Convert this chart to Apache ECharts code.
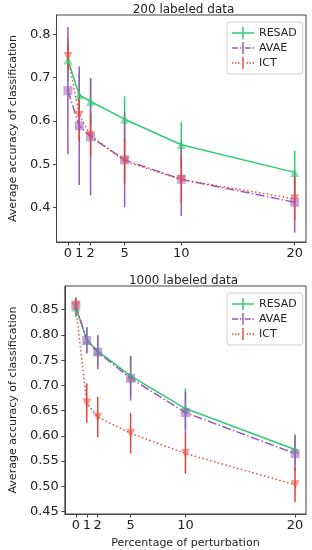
<!DOCTYPE html>
<html>
<head>
<meta charset="utf-8">
<script src="https://cdn.jsdelivr.net/npm/echarts@6/dist/echarts.min.js"></script>
<style>
html,body{margin:0;padding:0;background:#fff;}
#chart{width:312px;height:550px;}
</style>
</head>
<body>
<div id="chart"></div>
<script>
// ---- data ----
var xVals = [0, 1, 2, 5, 10, 20];
var xTicks = [0, 1, 2, 5, 10, 20];
var yTicksTop = [0.4, 0.5, 0.6, 0.7, 0.8];
var yTicksBottom = [0.45, 0.50, 0.55, 0.60, 0.65, 0.70, 0.75, 0.80, 0.85];
var seriesNames = ['RESAD', 'AVAE', 'ICT'];
var titleTop = '200 labeled data';
var titleBottom = '1000 labeled data';

var resad200 = [0.741, 0.660, 0.645, 0.604, 0.545, 0.481];
var resad200Err = [0.05, 0.05, 0.055, 0.053, 0.052, 0.05];
var avae200 = [0.670, 0.589, 0.563, 0.510, 0.465, 0.412];
var avae200Err = [0.147, 0.137, 0.135, 0.11, 0.085, 0.07];
var ict200 = [0.749, 0.613, 0.567, 0.507, 0.464, 0.420];
var ict200Err = [0.03, 0.06, 0.05, 0.052, 0.053, 0.05];

var resad1000 = [0.855, 0.790, 0.768, 0.719, 0.654, 0.573];
var resad1000Err = [0.02, 0.025, 0.03, 0.04, 0.04, 0.03];
var avae1000 = [0.859, 0.789, 0.766, 0.714, 0.646, 0.565];
var avae1000Err = [0.012, 0.026, 0.034, 0.044, 0.042, 0.035];
var ict1000 = [0.857, 0.665, 0.637, 0.605, 0.565, 0.503];
var ict1000Err = [0.016, 0.039, 0.04, 0.04, 0.04, 0.034];

// ---- styles ----
var FONT = 'DejaVu Sans';
var colors = {RESAD: '#2ecc71', AVAE: '#9b59b6', ICT: '#e74c3c'};
var errColors = {RESAD: '#2ecc71', AVAE: '#9b59b6', ICT: '#e0453a'};
var lineTypes = {RESAD: 'solid', AVAE: [9, 2.4, 1.5, 2.4], ICT: [1.5, 2.5]};
var symbols = {RESAD: 'triangle', AVAE: 'rect', ICT: 'triangle'};
var symbolRot = {RESAD: 0, AVAE: 0, ICT: 180};
var symbolSizes = {RESAD: 9, AVAE: 9, ICT: 9};
var legendIcons = {
  RESAD: 'path://M0,5.25h22v1.5h-22z M10.25,0h1.5v12h-1.5z',
  AVAE: 'path://M0,5.25h6v1.5h-6z M7.8,5.25h1.5v1.5h-1.5z M12.7,5.25h6v1.5h-6z M20.5,5.25h1.5v1.5h-1.5z M10.25,0h1.5v12h-1.5z',
  ICT: 'path://M0,5.25h1.5v1.5h-1.5z M3,5.25h1.5v1.5h-1.5z M6,5.25h1.5v1.5h-1.5z M14.5,5.25h1.5v1.5h-1.5z M17.5,5.25h1.5v1.5h-1.5z M20.5,5.25h1.5v1.5h-1.5z M10.25,0h1.5v12h-1.5z'
};

var panels = [
  {title: titleTop, ticks: yTicksTop, min: 0.32, max: 0.845, dec: 1,
   data: {RESAD: [resad200, resad200Err], AVAE: [avae200, avae200Err], ICT: [ict200, ict200Err]}},
  {title: titleBottom, ticks: yTicksBottom, min: 0.445, max: 0.897, dec: 2,
   data: {RESAD: [resad1000, resad1000Err], AVAE: [avae1000, avae1000Err], ICT: [ict1000, ict1000Err]}}
];
var grids = [
  {left: 51, top: 15, width: 255, height: 227},
  {left: 51, top: 286, width: 255, height: 228}
];

var option = {
  animation: false,
  backgroundColor: '#fff',
  textStyle: {fontFamily: FONT},
  title: [], grid: [], xAxis: [], yAxis: [], legend: [], series: []
};

panels.forEach(function (p, gi) {
  var g = grids[gi];
  option.grid.push({left: g.left, top: g.top, width: g.width, height: g.height,
    show: true, borderColor: '#444', borderWidth: 1, backgroundColor: 'transparent'});
  option.title.push({text: p.title, left: g.left + g.width / 2, textAlign: 'center',
    top: g.top - 16, textStyle: {fontFamily: FONT, fontSize: 12, fontWeight: 'normal', color: '#222'}});
  option.xAxis.push({
    type: 'value', gridIndex: gi, min: -1, max: 21,
    name: gi === 1 ? 'Percentage of perturbation' : '',
    nameLocation: 'middle', nameGap: 24,
    nameTextStyle: {fontFamily: FONT, fontSize: 11, color: '#222'},
    axisLine: {show: true, onZero: false, lineStyle: {color: '#444', width: 1}},
    axisTick: {show: true, length: 3.5, customValues: xTicks, lineStyle: {color: '#444'}},
    axisLabel: {customValues: xTicks, margin: 5, fontFamily: FONT, fontSize: 13, color: '#222'},
    splitLine: {show: false}
  });
  option.yAxis.push({
    type: 'value', gridIndex: gi, min: p.min, max: p.max,
    name: 'Average accuracy of classification',
    nameLocation: 'middle', nameGap: 30,
    nameTextStyle: {fontFamily: FONT, fontSize: 11, color: '#222'},
    axisLine: {show: true, onZero: false, lineStyle: {color: '#444', width: 1}},
    axisTick: {show: true, length: 3.5, customValues: p.ticks, lineStyle: {color: '#444'}},
    axisLabel: {customValues: p.ticks, margin: 6, fontFamily: FONT, fontSize: 13, color: '#222',
      formatter: function (v) { return v.toFixed(p.dec); }},
    splitLine: {show: false}
  });
  option.legend.push({
    orient: 'vertical', left: 227, top: g.top + 7,
    padding: [5, 6, 5, 5], itemGap: 3, itemWidth: 22, itemHeight: 12,
    backgroundColor: '#fff', borderColor: '#d0d0d0', borderWidth: 1, borderRadius: 3,
    textStyle: {fontFamily: FONT, fontSize: 11, color: '#222'},
    selectedMode: false,
    data: seriesNames.map(function (n) {
      return {name: n, icon: legendIcons[n], itemStyle: {color: colors[n], opacity: 1, borderWidth: 0}};
    })
  });
  seriesNames.forEach(function (n) {
    var vals = p.data[n][0], errs = p.data[n][1];
    option.series.push({
      type: 'custom', name: n + '_err', xAxisIndex: gi, yAxisIndex: gi,
      data: xVals.map(function (x, i) { return [x, vals[i], errs[i]]; }),
      renderItem: (function (c) {
        return function (params, api) {
          var x = api.value(0), y = api.value(1), e = api.value(2);
          var a = api.coord([x, y - e]), b = api.coord([x, y + e]);
          return {type: 'line', shape: {x1: a[0], y1: a[1], x2: b[0], y2: b[1]},
            style: {stroke: c, lineWidth: 1.5}};
        };
      })(errColors[n]),
      silent: true, z: 2
    });
    option.series.push({
      type: 'line', name: n, xAxisIndex: gi, yAxisIndex: gi,
      data: xVals.map(function (x, i) { return [x, vals[i]]; }),
      symbol: symbols[n], symbolSize: symbolSizes[n], symbolRotate: symbolRot[n],
      showAllSymbol: true,
      lineStyle: {color: colors[n], width: 1.5, type: lineTypes[n]},
      itemStyle: {color: colors[n], opacity: 0.55, borderWidth: 0},
      z: 3
    });
  });
});

var chart = echarts.init(document.getElementById('chart'), null, {renderer: 'canvas'});
chart.setOption(option);
</script>
</body>
</html>
